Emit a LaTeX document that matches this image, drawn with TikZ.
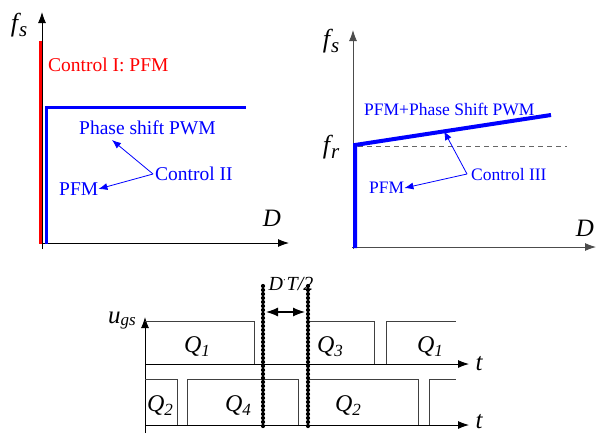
\documentclass[tikz,border=0pt]{standalone}
\usepackage{fontspec}
\setmainfont{Liberation Serif}
\usetikzlibrary{arrows.meta}
\begin{document}
\begin{tikzpicture}[x=1pt,y=-1pt,
  axis/.style={line width=0.9pt, -{Latex[length=11pt,width=8pt]}},
  lbl/.style={inner sep=0pt, anchor=center},
  pulse/.style={line width=0.8pt, black!75},
  beadcore/.style={line width=2.2pt},
  beads/.style={line width=4.2pt, dash pattern=on 0pt off 4pt, line cap=round},
  ann/.style={blue, line width=0.8pt, -{Latex[length=9pt,width=7pt]}},
  bigtxt/.style={lbl, font=\fontsize{19.5}{20}\selectfont},
  midtxt/.style={lbl, font=\fontsize{17.5}{18}\selectfont},
  axlbl/.style={lbl, font=\fontsize{26}{26}\selectfont\itshape}
]
\useasboundingbox (0,0) rectangle (596,434);

% ---------------- left panel
\coordinate (LyB) at (42,249);
\coordinate (LyT) at (42,12);
\coordinate (LxL) at (41,243);
\coordinate (LxR) at (289,243);
\draw[axis] (LyB) -- (LyT);
\draw[axis] (LxL) -- (LxR);
\draw[red, line width=3pt] (40,41) -- (40,244);
\draw[blue, line width=3pt, line join=miter] (46,244) -- (46,107) -- (246,107);

\node[axlbl] (fsL) at (19,25) {f\kern1pt\raisebox{-5pt}{\fontsize{21}{21}\selectfont s}};
\node[axlbl, font=\fontsize{25}{25}\selectfont\itshape] (DL) at (272,218) {D};
\node[bigtxt, red, anchor=west] (c1) at (48,65) {Control I: PFM};
\node[bigtxt, blue, anchor=west] (psL) at (79,128) {Phase shift PWM};
\node[bigtxt, blue, anchor=west] (c2) at (155,174) {Control II};
\node[bigtxt, blue, anchor=west] (pfmL) at (59,189) {PFM};
\coordinate (c2a) at (153,174);
\coordinate (psLa) at (112,140);
\draw[ann] (c2a) -- (psLa);
\draw[ann] (c2a) -- (pfmL.east);

% ---------------- right panel
\coordinate (RyB) at (353,249);
\coordinate (RyT) at (353,30);
\coordinate (RxL) at (352,247);
\coordinate (RxR) at (596,247);
\draw[axis, gray!60!black] (RyB) -- (RyT);
\draw[axis, gray!60!black] (RxL) -- (RxR);
\draw[gray!80!black, line width=1pt, dash pattern=on 5pt off 4pt] (358,146) -- (567,146);
\draw[blue, line width=4pt, line join=miter] (355,248) -- (355,145) -- (551,115);

\node[axlbl] (fsR) at (331,41) {f\kern1pt\raisebox{-5pt}{\fontsize{21}{21}\selectfont s}};
\node[axlbl] (frR) at (331,147) {f\kern1pt\raisebox{-5pt}{\fontsize{21}{21}\selectfont r}};
\node[axlbl, font=\fontsize{25}{25}\selectfont\itshape] (DR) at (585,228) {D};
\node[midtxt, blue, anchor=west] (ps3) at (364,109) {PFM+Phase Shift PWM};
\node[midtxt, blue, anchor=west] (c3) at (471,175) {Control III};
\node[midtxt, blue, anchor=west] (pfmR) at (369,188) {PFM};
\coordinate (c3a) at (467,174);
\coordinate (ps3a) at (444,131);
\draw[ann] (c3a) -- (ps3a);
\draw[ann] (c3a) -- (pfmR.east);

% ---------------- bottom panel
\coordinate (ByB) at (145,433);
\coordinate (ByT) at (145,317);
\coordinate (B1L) at (145,364);
\coordinate (B1R) at (469,364);
\coordinate (B2L) at (145,425);
\coordinate (B2R) at (469,425);
\draw[axis] (ByB) -- (ByT);
\draw[axis] (B1L) -- (B1R);
\draw[axis] (B2L) -- (B2R);

\draw[pulse] (145,321) -- (254,321) -- (254,364);
\draw[pulse] (308,321) -- (374,321) -- (374,364);
\draw[pulse] (386,364) -- (386,321) -- (456,321);
\draw[pulse] (145,379) -- (177,379) -- (177,425);
\draw[pulse] (187,425) -- (187,379) -- (298,379) -- (298,425);
\draw[pulse] (309,379) -- (418,379) -- (418,425);
\draw[pulse] (429,425) -- (429,379) -- (456,379);

\coordinate (d1T) at (263,286);
\coordinate (d1B) at (263,426);
\coordinate (d2T) at (308,286);
\coordinate (d2B) at (308,426);
\draw[beadcore] (d1T) -- (d1B);
\draw[beadcore] (d2T) -- (d2B);
\draw[beads] (d1T) -- (d1B);
\draw[beads] (d2T) -- (d2B);
\coordinate (da) at (266,312);
\coordinate (db) at (305,312);
\draw[line width=1.2pt, {Latex[length=12pt,width=9pt]}-{Latex[length=12pt,width=9pt]}] (da) -- (db);

\node[lbl, font=\fontsize{20}{20}\selectfont\itshape] (DT) at (291,284) {D\raisebox{7pt}{\fontsize{10}{10}\selectfont\textperiodcentered}\kern1pt T/2};

\node[lbl, font=\fontsize{25}{25}\selectfont\itshape] (ugs) at (122,321) {u\raisebox{-2pt}{\fontsize{17}{17}\selectfont gs}};
\node[lbl, font=\fontsize{25}{25}\selectfont\itshape] (t1) at (479,364) {t};
\node[lbl, font=\fontsize{25}{25}\selectfont\itshape] (t2) at (479,422) {t};

\tikzset{qlbl/.style={lbl, font=\fontsize{24}{24}\selectfont\itshape}}
\newcommand{\qq}[1]{Q\raisebox{-4pt}{\fontsize{17}{17}\selectfont #1}}
\node[qlbl] (q1a) at (197,347) {\qq{1}};
\node[qlbl] (q3) at (330,347) {\qq{3}};
\node[qlbl] (q1b) at (430,347) {\qq{1}};
\node[qlbl] (q2a) at (160,406) {\qq{2}};
\node[qlbl] (q4) at (238,406) {\qq{4}};
\node[qlbl] (q2b) at (348,406) {\qq{2}};
\end{tikzpicture}
\end{document}
